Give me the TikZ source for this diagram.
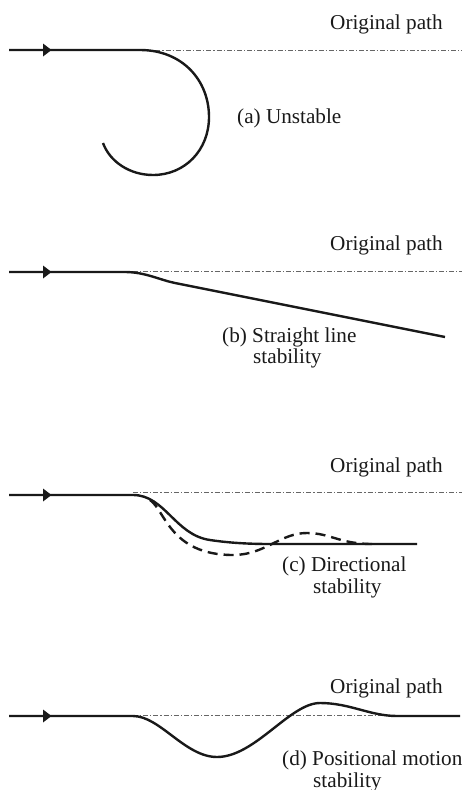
\documentclass[tikz,border=0pt]{standalone}
\usepackage{fontspec}
\setmainfont{Liberation Serif}
\begin{document}
\begin{tikzpicture}[x=1pt,y=-1pt,
  trace/.style={line width=2.4pt,black!90,line join=round},
  origline/.style={line width=0.8pt,black!60,dash pattern=on 5pt off 2pt on 1.2pt off 2pt},
  pert/.style={line width=2.4pt,black!90,dash pattern=on 10pt off 6pt},
  lbl/.style={anchor=base west,inner sep=0pt,font=\fontsize{21.2}{22}\selectfont,text=black!90},
  headtip/.style={fill=black!90}
]
\useasboundingbox (0,0) rectangle (464,790);

% direction-of-travel marker on each approach line
\newcommand{\travelmark}[1]{\fill[headtip] (43,#1-6.5) -- (51.5,#1) -- (43,#1+6.5) -- cycle;}

% (a) unstable: the path curls away
\draw[origline] (135,50) -- (462,50);
\draw[trace] (9,50) -- (140,50) .. controls (182,50) and (209,80) .. (209,117)
  .. controls (209,150) and (185,175) .. (153,175)
  .. controls (130,175) and (110,162) .. (103,143);
\travelmark{50}
\node[lbl] (origA) at (330,29) {Original path};
\node[lbl] (capA) at (237,123) {(a) Unstable};

% (b) straight line stability: settles on a new straight heading
\draw[origline] (133,271) -- (462,271);
\draw[trace] (9,272) -- (125,272) .. controls (145,272) and (160,280) .. (175,283) -- (445,337);
\travelmark{272}
\node[lbl] (origB) at (330,250) {Original path};
\node[lbl] (capB) at (222,342) {(b) Straight line};
\node[lbl] (capB2) at (253,363) {stability};

% (c) directional stability: new heading parallel to the original
\draw[origline] (133,492) -- (462,492);
\draw[trace] (9,495) -- (133,495) .. controls (165,495) and (175,535) .. (210,540)
  .. controls (230,543) and (250,544) .. (270,544) -- (417,544);
\draw[pert] (150,500) .. controls (165,510) and (170,555) .. (233,555)
  .. controls (265,555) and (280,533) .. (307,533)
  .. controls (330,533) and (340,544) .. (372,544);
\travelmark{495}
\node[lbl] (origC) at (330,472) {Original path};
\node[lbl] (capC) at (282,571) {(c) Directional};
\node[lbl] (capC2) at (313,593) {stability};

% (d) positional motion stability: returns to the original line
\draw[origline] (133,715) -- (395,715);
\draw[trace] (9,716) -- (133,716) .. controls (160,716) and (185,757) .. (217,757)
  .. controls (255,757) and (290,703) .. (320,703)
  .. controls (350,703) and (370,716) .. (397,716) -- (460,716);
\travelmark{716}
\node[lbl] (origD) at (330,693) {Original path};
\node[lbl] (capD) at (282,765) {(d) Positional motion};
\node[lbl] (capD2) at (313,787) {stability};
\end{tikzpicture}
\end{document}
